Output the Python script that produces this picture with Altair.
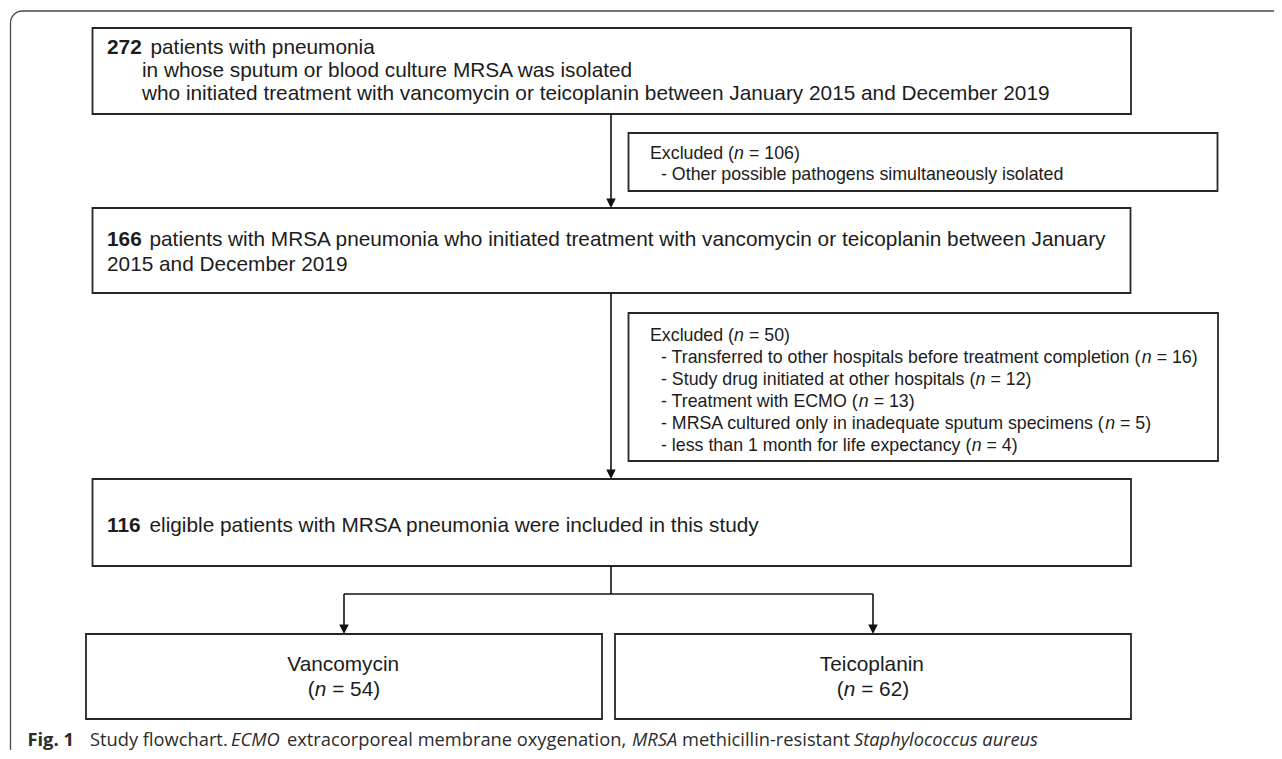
import altair as alt
import pandas as pd

# ---------------- data (text content of the flowchart) ----------------
screened_n = "272"
screened_text = [
    "patients with pneumonia",
    "in whose sputum or blood culture MRSA was isolated",
    "who initiated treatment with vancomycin or teicoplanin between January 2015 and December 2019",
]
excl1_n = "106"
excl1_reasons = ["Other possible pathogens simultaneously isolated"]
mrsa_n = "166"
mrsa_text = [
    "patients with MRSA pneumonia who initiated treatment with vancomycin or teicoplanin between January",
    "2015 and December 2019",
]
excl2_n = "50"
excl2_reasons = [
    "Transferred to other hospitals before treatment completion",
    "Study drug initiated at other hospitals",
    "Treatment with ECMO",
    "MRSA cultured only in inadequate sputum specimens",
    "less than 1 month for life expectancy",
]
excl2_counts = ["16", "12", "13", "5", "4"]
eligible_n = "116"
eligible_text = "eligible patients with MRSA pneumonia were included in this study"
arm_names = ["Vancomycin", "Teicoplanin"]
arm_counts = ["54", "62"]
caption_texts = ["Fig. 1", "Study flowchart.", "ECMO", "extracorporeal membrane oxygenation,",
                 "MRSA", "methicillin-resistant", "Staphylococcus aureus"]
caption_kinds = ["b", "r", "i", "r", "i", "r", "i"]

# ---------------- layout (image pixel coordinates) ----------------
W, H = 1266, 742
FONT = "Liberation Sans"
CAP_FONT = "Open Sans"
MAIN = 20.8
SMALL = 17.8
CAP = 18.3
INK = "#1c1c1c"
BOX_STROKE = "#262626"

boxes = {
    "screened": (92.5, 28, 1131, 114),
    "excl1": (628.5, 133, 1217.5, 191),
    "mrsa": (92.5, 208, 1130.5, 293),
    "excl2": (628.5, 313, 1218, 461),
    "eligible": (92.5, 479, 1131, 566),
    "arm0": (86, 634, 602, 719),
    "arm1": (615, 634, 1131, 719),
}
spine_x = 611
split_y = 594
arm_x = [344, 873]
cap_x = [27.5, 90, 231, 287, 632, 682, 854]
cap_y = 746

# Arial / Liberation Sans advance widths (per 1000 em)
AW = {' ': 278, '(': 333, ')': 333, '-': 333, '=': 584, '.': 278, ',': 278}
for d in "0123456789":
    AW[d] = 556
AW.update(dict(a=556, b=556, c=500, d=556, e=556, f=278, g=556, h=556, i=222, j=222, k=500,
               l=222, m=833, n=556, o=556, p=556, q=556, r=333, s=500, t=278, u=556, v=500,
               w=722, x=500, y=500, z=500))
AW.update(dict(A=667, B=667, C=722, D=722, E=667, F=611, G=778, H=722, I=278, J=500, K=667,
               L=556, M=833, N=722, O=778, P=667, Q=778, R=722, S=667, T=611, U=722, V=667,
               W=944, X=667, Y=667, Z=611))


def tw(s, size):
    return sum(AW.get(c, 556) for c in s) * size / 1000.0


segs = []


def add_line(x, y, parts, size, align="left", gap=0.0):
    total = sum(tw(t, size) for t, _ in parts)
    if align == "center":
        x = x - total / 2.0
    for idx, (t, k) in enumerate(parts):
        lead = len(t) - len(t.lstrip())
        txt = t.strip()
        if idx > 0:
            x += gap
        if txt:
            segs.append(dict(x=x + tw(t[:lead], size), y=y, text=txt, kind=k, size=size))
        x += tw(t, size)


# screened box
add_line(107, 53.5, [(screened_n, "b"), (" " + screened_text[0], "r")], MAIN, gap=3)
add_line(142, 76.5, [(screened_text[1], "r")], MAIN)
add_line(142, 99.5, [(screened_text[2], "r")], MAIN)
# excluded 1
add_line(650, 158.5, [("Excluded (", "r"), ("n", "i"), (" = " + excl1_n + ")", "r")], SMALL)
for j, r in enumerate(excl1_reasons):
    add_line(661, 180 + 22 * j, [("- " + r, "r")], SMALL)
# mrsa box
add_line(107, 246, [(mrsa_n, "b"), (" " + mrsa_text[0], "r")], MAIN, gap=2)
add_line(107, 271, [(mrsa_text[1], "r")], MAIN)
# excluded 2
add_line(650, 340.5, [("Excluded (", "r"), ("n", "i"), (" = " + excl2_n + ")", "r")], SMALL)
for j, (r, c) in enumerate(zip(excl2_reasons, excl2_counts)):
    add_line(661, 362.5 + 22 * j, [("- " + r + " (", "r"), ("n", "i"), (" = " + c + ")", "r")], SMALL)
# eligible
add_line(107, 532, [(eligible_n, "b"), (" " + eligible_text, "r")], MAIN, gap=2)
# arms
for cx, name, c in zip(arm_x, arm_names, arm_counts):
    add_line(cx, 671, [(name, "r")], MAIN, align="center")
    add_line(cx, 695.5, [("(", "r"), ("n", "i"), (" = " + c + ")", "r")], MAIN, align="center")

text_df = pd.DataFrame(segs)
cap_df = pd.DataFrame(dict(x=cap_x, y=[cap_y] * len(cap_x), text=caption_texts, kind=caption_kinds))

box_df = pd.DataFrame([dict(name=k, x1=v[0], y1=v[1], x2=v[2], y2=v[3]) for k, v in boxes.items()])
frame_df = pd.DataFrame([dict(x1=10.5, y1=11, x2=1320, y2=790)])

lines_df = pd.DataFrame([
    dict(x1=spine_x, y1=boxes["screened"][3], x2=spine_x, y2=boxes["mrsa"][1] - 4),
    dict(x1=spine_x, y1=boxes["mrsa"][3], x2=spine_x, y2=boxes["eligible"][1] - 4),
    dict(x1=spine_x, y1=boxes["eligible"][3], x2=spine_x, y2=split_y),
    dict(x1=arm_x[0], y1=split_y, x2=arm_x[1], y2=split_y),
    dict(x1=arm_x[0], y1=split_y, x2=arm_x[0], y2=boxes["arm0"][1] - 4),
    dict(x1=arm_x[1], y1=split_y, x2=arm_x[1], y2=boxes["arm1"][1] - 4),
])
AH = 9.5
heads_df = pd.DataFrame([
    dict(x=spine_x, y=boxes["mrsa"][1] - AH / 2),
    dict(x=spine_x, y=boxes["eligible"][1] - AH / 2),
    dict(x=arm_x[0], y=boxes["arm0"][1] - AH / 2),
    dict(x=arm_x[1], y=boxes["arm1"][1] - AH / 2),
])

xs = alt.Scale(domain=[8, 8 + W], nice=False, zero=False)
ys = alt.Scale(domain=[8, 8 + H], nice=False, zero=False, reverse=True)


def X(f):
    return alt.X(f, type="quantitative", scale=xs, axis=None)


def Y(f):
    return alt.Y(f, type="quantitative", scale=ys, axis=None)


frame = alt.Chart(frame_df).mark_rect(
    fill="white", fillOpacity=0, stroke="#4a4a4a", strokeWidth=1.3, cornerRadius=12
).encode(x=X("x1"), x2="x2", y=Y("y1"), y2="y2")

rects = alt.Chart(box_df).mark_rect(
    fill="white", stroke=BOX_STROKE, strokeWidth=1.8
).encode(x=X("x1"), x2="x2", y=Y("y1"), y2="y2")

rules = alt.Chart(lines_df).mark_rule(color="#111111", strokeWidth=1.6).encode(
    x=X("x1"), x2="x2", y=Y("y1"), y2="y2"
)

heads = alt.Chart(heads_df).mark_point(
    shape="M-1,-1L1,-1L0,1Z", filled=True, size=AH * AH, color="#111111", opacity=1
).encode(x=X("x"), y=Y("y"))


def text_layer(df, kind, font, color):
    weight = "bold" if kind == "b" else "normal"
    style = "italic" if kind == "i" else "normal"
    return alt.Chart(df[df["kind"] == kind]).mark_text(
        align="left", baseline="alphabetic", font=font, fontWeight=weight,
        fontStyle=style, color=color
    ).encode(x=X("x"), y=Y("y"), text="text:N",
             size=alt.Size("size:Q", scale=None, legend=None))


def cap_layer(kind):
    weight = "bold" if kind == "b" else "normal"
    style = "italic" if kind == "i" else "normal"
    return alt.Chart(cap_df[cap_df["kind"] == kind]).mark_text(
        align="left", baseline="alphabetic", font=CAP_FONT, fontWeight=weight,
        fontStyle=style, color="#2b2b2b", fontSize=CAP
    ).encode(x=X("x"), y=Y("y"), text="text:N")


layers = [frame, rects, rules, heads]
for k in ["r", "b", "i"]:
    layers.append(text_layer(text_df, k, FONT, INK))
for k in ["r", "b", "i"]:
    layers.append(cap_layer(k))

chart = alt.layer(*layers).properties(
    width=W, height=H, autosize=alt.AutoSizeParams(type="none"), padding=0,
    background="white"
).configure_view(strokeWidth=0)

chart.save("out.html", embed_options={"renderer": "svg", "actions": False})
